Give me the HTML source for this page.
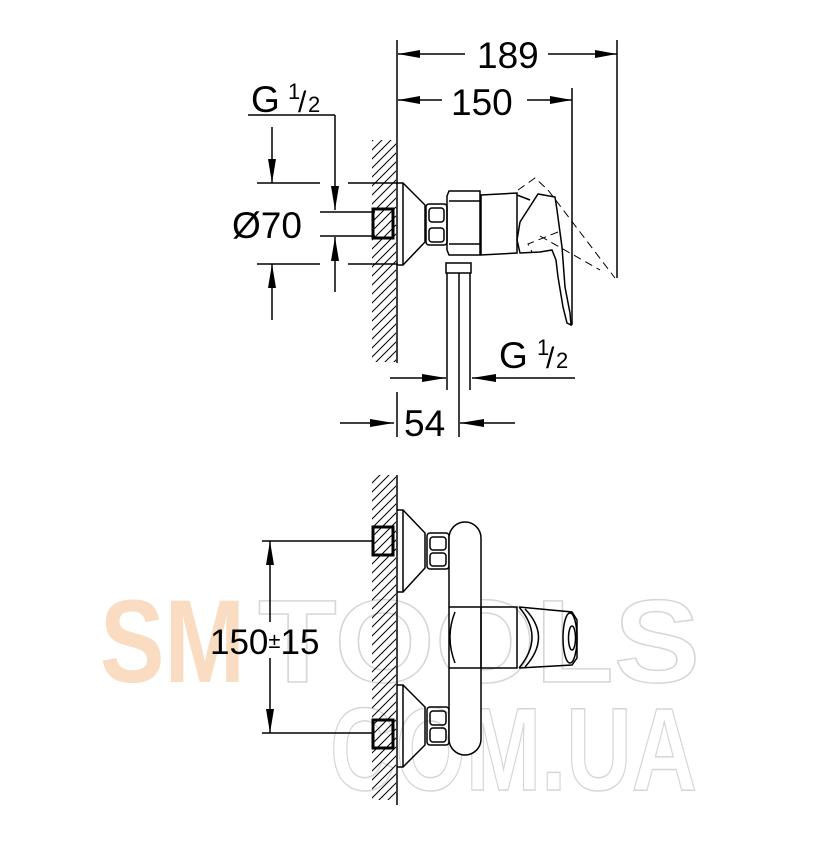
<!DOCTYPE html>
<html><head><meta charset="utf-8"><style>
html,body{margin:0;padding:0;background:#fff}
svg{display:block}
text{font-family:"Liberation Sans",Arial,sans-serif}
</style></head><body>
<svg width="828" height="846" viewBox="0 0 828 846" xmlns="http://www.w3.org/2000/svg">
<defs>
<pattern id="h" width="9" height="9" patternUnits="userSpaceOnUse">
<path d="M0 9 L9 0 M-2 2 L2 -2 M7 11 L11 7" stroke="#000" stroke-width="1"/>
</pattern>
</defs>
<!-- watermark -->
<text x="100" y="682" font-size="118" font-weight="bold" fill="#f9dcc2" textLength="145" lengthAdjust="spacingAndGlyphs">SM</text>
<text x="258" y="682" font-size="118" font-weight="bold" fill="none" stroke="#d6d6d6" stroke-width="1.5" textLength="442" lengthAdjust="spacingAndGlyphs">TOOLS</text>
<text x="330" y="790" font-size="118" font-weight="bold" fill="none" stroke="#d6d6d6" stroke-width="1.5" textLength="367" lengthAdjust="spacingAndGlyphs">COM.UA</text>

<g stroke="#000" stroke-width="1.5" fill="none">
<rect x="372" y="140" width="24" height="222" fill="url(#h)" stroke="none"/>
<rect x="372" y="475" width="24" height="325" fill="url(#h)" stroke="none"/>
<line x1="397" y1="40" x2="397" y2="363"/>
<line x1="397" y1="392" x2="397" y2="437"/>
<line x1="397" y1="475" x2="397" y2="805"/>
<line x1="617" y1="40" x2="617" y2="278"/>
<line x1="572" y1="88" x2="572" y2="325"/>
<line x1="398" y1="54" x2="465" y2="54"/><line x1="548" y1="54" x2="617" y2="54"/>
<line x1="398" y1="100" x2="442" y2="100"/><line x1="527" y1="100" x2="572" y2="100"/>
<line x1="248" y1="115" x2="335" y2="115"/>
<line x1="335" y1="115" x2="335" y2="210"/>
<line x1="335" y1="237" x2="335" y2="292"/>
<line x1="257" y1="183" x2="320" y2="183"/><line x1="348" y1="183" x2="398" y2="183"/>
<line x1="257" y1="264" x2="320" y2="264"/><line x1="348" y1="264" x2="398" y2="264"/>
<line x1="320" y1="212" x2="375" y2="212"/><line x1="320" y1="236" x2="375" y2="236"/>
<line x1="272" y1="127" x2="272" y2="183"/><line x1="272" y1="264" x2="272" y2="320"/>
<line x1="390" y1="378" x2="446" y2="378"/><line x1="472" y1="378" x2="575" y2="378"/>
<line x1="340" y1="423" x2="394" y2="423"/><line x1="460" y1="423" x2="515" y2="423"/>
<line x1="447" y1="273" x2="447" y2="390"/>
<line x1="470" y1="273" x2="470" y2="390"/>
<line x1="459" y1="273" x2="459" y2="437"/>
<rect x="446" y="263" width="25" height="10"/>
<rect x="373" y="209" width="20" height="29" stroke-width="3"/>
<path d="M397 183 H403 L425 205 V242 L403 265 H397"/>
<line x1="403" y1="183" x2="403" y2="265"/>
<rect x="426" y="204" width="21" height="41" rx="3"/>
<rect x="429" y="208" width="15" height="14" rx="3"/>
<rect x="429" y="228" width="15" height="14" rx="3"/>
<path d="M449 191 H480 V255 H449 L447 250 V196 Z"/>
<line x1="449" y1="201" x2="480" y2="201"/><line x1="449" y1="244" x2="480" y2="244"/>
<path d="M481 195 L517 193 V253 L481 255 Z"/>
<path d="M520 222 L538 194 L555 197 L557 210 L562 247 L565 287 L570 313 L571 325 L567 323 L563 307 L558 277 L556 260 L552 250 L540 252 L520 253 L517 240 Z"/>
<path d="M517 195 L530 200" />
<path d="M518 190 L535 178 L548 190 M548 190 L615 278 M558 232 L528 244 L532 252 M540 236 L600 270" stroke-dasharray="8 5" stroke-width="1"/>
<line x1="262" y1="541" x2="373" y2="541"/>
<line x1="262" y1="733" x2="373" y2="733"/>
<line x1="270" y1="541" x2="270" y2="622"/>
<line x1="270" y1="658" x2="270" y2="733"/>
<rect x="373" y="527" width="20" height="28" stroke-width="3"/>
<rect x="373" y="720" width="20" height="28" stroke-width="3"/>
<path d="M397 510 H403 L425 533 V568 L403 592 H397"/><line x1="403" y1="510" x2="403" y2="592"/>
<path d="M397 685 H403 L425 707 V745 L403 767 H397"/><line x1="403" y1="685" x2="403" y2="767"/>
<rect x="427" y="533" width="22" height="36" rx="3"/>
<rect x="430" y="537" width="16" height="13" rx="3"/>
<rect x="430" y="553" width="16" height="13" rx="3"/>
<rect x="427" y="707" width="22" height="38" rx="3"/>
<rect x="430" y="711" width="16" height="14" rx="3"/>
<rect x="430" y="728" width="16" height="14" rx="3"/>
<rect x="449" y="522" width="32" height="233" rx="16" ry="16" fill="#fff"/>
<path d="M449 607 H481 M449 668 H481"/>
<path d="M455 612 Q445 637 455 663"/>
<rect x="481" y="607" width="36" height="61"/>
<path d="M519 607 L572 612 L577 620 V658 L572 665 L519 668"/>
<path d="M519 607 Q545 637 519 668 M525 609 Q552 637 525 667"/>
<ellipse cx="570" cy="638" rx="7" ry="25"/>
<ellipse cx="572" cy="638" rx="3.5" ry="12"/>
</g>
<g fill="#000">
<polygon points="398,54 420,50 420,58"/><polygon points="617,54 595,50 595,58"/>
<polygon points="398,100 420,96 420,104"/><polygon points="572,100 550,96 550,104"/>
<polygon points="335,210 331,186 339,186"/><polygon points="335,237 331,261 339,261"/>
<polygon points="272,183 268,159 276,159"/><polygon points="272,264 268,288 276,288"/>
<polygon points="446,378 422,374 422,382"/><polygon points="472,378 496,374 496,382"/>
<polygon points="394,423 370,419 370,427"/><polygon points="460,423 484,419 484,427"/>
<polygon points="270,541 266,565 274,565"/><polygon points="270,733 266,709 274,709"/>
</g>
<g font-size="37" fill="#000">
<text x="477" y="68">189</text>
<text x="451" y="115">150</text>
<text x="251" y="112">G</text><text x="288" y="99" font-size="22">1</text><text x="298" y="112" font-size="30">/</text><text x="308" y="112" font-size="22">2</text>
<text x="232" y="238">Ø70</text>
<text x="499" y="368">G</text><text x="537" y="355" font-size="22">1</text><text x="546" y="368" font-size="30">/</text><text x="556" y="368" font-size="22">2</text>
<text x="404" y="436">54</text>
<text x="210" y="654" font-size="35">150<tspan font-size="22" dy="-6">±</tspan><tspan dy="6">15</tspan></text>
</g>
</svg>
</body></html>
